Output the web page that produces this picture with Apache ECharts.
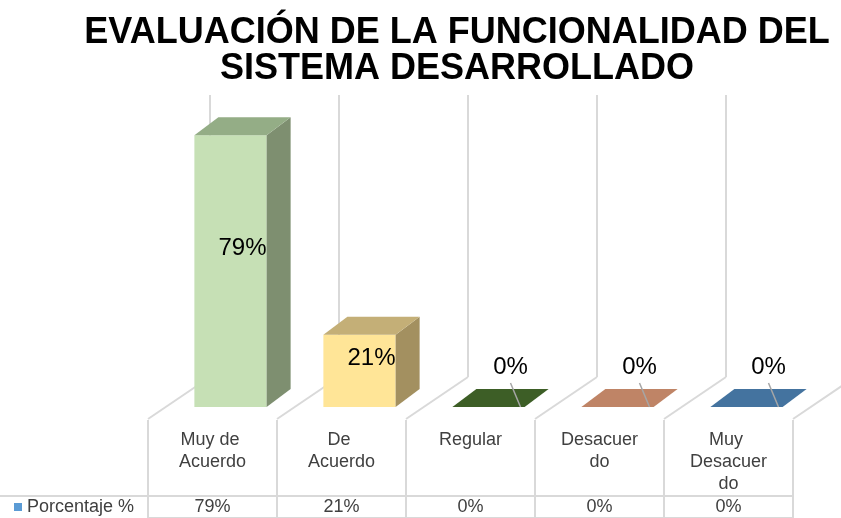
<!DOCTYPE html>
<html>
<head>
<meta charset="utf-8">
<script src="https://cdn.jsdelivr.net/npm/echarts@6/dist/echarts.min.js"></script>
<style>
  html, body { margin: 0; padding: 0; background: #fff; }
  #chart { width: 841px; height: 518px; }
</style>
</head>
<body>
<div id="chart"></div>
<script>
// -------------------------------
// datos
// -------------------------------
const categories = ['Muy de Acuerdo', 'De Acuerdo', 'Regular', 'Desacuerdo', 'Muy Desacuerdo'];
const porcentaje = [79, 21, 0, 0, 0];
const seriesName = 'Porcentaje %';
const titleLines = ['EVALUACIÓN DE LA FUNCIONALIDAD DEL', 'SISTEMA DESARROLLADO'];

// colores por barra: frente, tapa, lado
const frontColors = ['#C6E0B5', '#FFE597', '#4E7A31', '#E0A27F', '#5B8FC4'];
const topColors = ['#94AD86', '#C4AF77', '#3D5E26', '#BF8466', '#44739F'];
const sideColors = ['#7E8F70', '#A39060', '#2F4A1D', '#9A6A52', '#365C80'];

// perspectiva (px)
const DX = 24, DY = -18;            // profundidad de la barra
const BACK_DX = 44, BACK_DY = -30;  // pared del fondo
const FLOOR_DX = -18, FLOOR_DY = 12; // borde delantero del piso
const Y_MAX = 82;
const GRID_COLOR = '#D9D9D9';
const TEXT_COLOR = '#404040';
const FONT = 'Liberation Sans, Arial, sans-serif';

const chart = echarts.init(document.getElementById('chart'));

// pared y piso
function renderWall(params, api) {
  const i = api.value(0);
  const half = api.size([1, 0])[0] / 2;
  const c = api.coord([i, 0]);
  const top = api.coord([i, Y_MAX])[1];
  const xs = [c[0] - half];
  if (i === categories.length - 1) xs.push(c[0] + half);
  const children = [];
  xs.forEach(function (x) {
    const bx = x + BACK_DX, by = c[1] + BACK_DY;
    children.push({
      type: 'line',
      shape: { x1: bx, y1: top + BACK_DY, x2: bx, y2: by },
      style: { stroke: GRID_COLOR, lineWidth: 2 }
    });
    children.push({
      type: 'line',
      shape: { x1: x + FLOOR_DX, y1: c[1] + FLOOR_DY, x2: bx, y2: by },
      style: { stroke: GRID_COLOR, lineWidth: 2 }
    });
  });
  return { type: 'group', children: children, silent: true };
}

// barras 3D
function renderBar(params, api) {
  const i = api.value(0);
  const v = api.value(1);
  const w = api.size([1, 0])[0] * 0.56;
  const base = api.coord([i, 0]);
  const tp = api.coord([i, v]);
  const xl = base[0] - w / 2, xr = base[0] + w / 2;
  const yb = base[1], yt = tp[1];
  const children = [
    {
      type: 'rect',
      shape: { x: xl, y: yt, width: w, height: yb - yt },
      style: { fill: frontColors[i] }
    },
    {
      type: 'polygon',
      shape: { points: [[xr, yt], [xr + DX, yt + DY], [xr + DX, yb + DY], [xr, yb]] },
      style: { fill: sideColors[i] }
    },
    {
      type: 'polygon',
      shape: { points: [[xl, yt], [xl + DX, yt + DY], [xr + DX, yt + DY], [xr, yt]] },
      style: { fill: topColors[i] }
    }
  ];
  if (v > 0) {
    const mid = api.coord([i, v * 0.55]);
    children.push({
      type: 'text',
      style: {
        text: v + '%', x: base[0] + DX / 2, y: mid[1] + DY / 2,
        align: 'center', verticalAlign: 'middle',
        fill: '#000', font: '24px ' + FONT
      }
    });
  } else {
    const lx = base[0] + 22, ly = yb - 40;
    children.push({
      type: 'line',
      shape: { x1: lx, y1: ly + 16, x2: lx + 10, y2: yb },
      style: { stroke: '#A6A6A6', lineWidth: 1.5 }
    });
    children.push({
      type: 'text',
      style: {
        text: v + '%', x: lx, y: ly,
        align: 'center', verticalAlign: 'middle',
        fill: '#000', font: '24px ' + FONT
      }
    });
  }
  return { type: 'group', children: children };
}

chart.setOption({
  animation: false,
  backgroundColor: '#fff',
  graphic: [
    {
      type: 'text',
      style: {
        text: titleLines[0], x: 457, y: 33,
        align: 'center', verticalAlign: 'middle',
        fill: '#000', font: 'bold 36px ' + FONT
      }
    },
    {
      type: 'text',
      style: {
        text: titleLines[1], x: 457, y: 69,
        align: 'center', verticalAlign: 'middle',
        fill: '#000', font: 'bold 36px ' + FONT
      }
    },
    {
      type: 'line',
      shape: { x1: 0, y1: 496, x2: 793, y2: 496 },
      style: { stroke: GRID_COLOR, lineWidth: 2 }
    }
  ],
  legend: {
    data: [seriesName],
    left: 14, top: 498, padding: 0,
    icon: 'rect', itemWidth: 8, itemHeight: 8, itemGap: 5,
    textStyle: { color: TEXT_COLOR, fontSize: 18, fontFamily: FONT }
  },
  grid: [
    { left: 166, right: 30, top: 125, bottom: 111 },
    { left: 148, right: 48, top: 420, bottom: 0 }
  ],
  xAxis: [
    { type: 'category', gridIndex: 0, data: categories, show: false },
    {
      type: 'category', gridIndex: 1, data: categories, position: 'top',
      axisLine: { show: true, lineStyle: { color: GRID_COLOR, width: 2 } },
      axisTick: { show: false },
      splitLine: { show: true, lineStyle: { color: GRID_COLOR, width: 2 } },
      axisLabel: {
        inside: true, margin: 9, interval: 0,
        color: TEXT_COLOR, fontSize: 18, fontFamily: FONT, lineHeight: 22,
        width: 86, overflow: 'break'
      }
    },
    {
      type: 'category', gridIndex: 1, position: 'bottom',
      data: porcentaje.map(function (v) { return v + '%'; }),
      axisLine: { show: false }, axisTick: { show: false }, splitLine: { show: false },
      axisLabel: {
        inside: true, margin: 0, interval: 0,
        color: TEXT_COLOR, fontSize: 18, fontFamily: FONT, lineHeight: 21
      }
    }
  ],
  yAxis: [
    { type: 'value', gridIndex: 0, min: 0, max: Y_MAX, show: false },
    { type: 'value', gridIndex: 1, show: false }
  ],
  series: [
    {
      name: 'pared',
      type: 'custom',
      xAxisIndex: 0, yAxisIndex: 0,
      renderItem: renderWall,
      data: categories.map(function (c, i) { return [i, 0]; }),
      z: 1, silent: true
    },
    {
      name: seriesName,
      type: 'custom',
      xAxisIndex: 0, yAxisIndex: 0,
      renderItem: renderBar,
      itemStyle: { color: '#5B9BD5' },
      encode: { x: 0, y: 1 },
      data: porcentaje.map(function (v, i) { return [i, v]; }),
      z: 2
    }
  ]
});
</script>
</body>
</html>
